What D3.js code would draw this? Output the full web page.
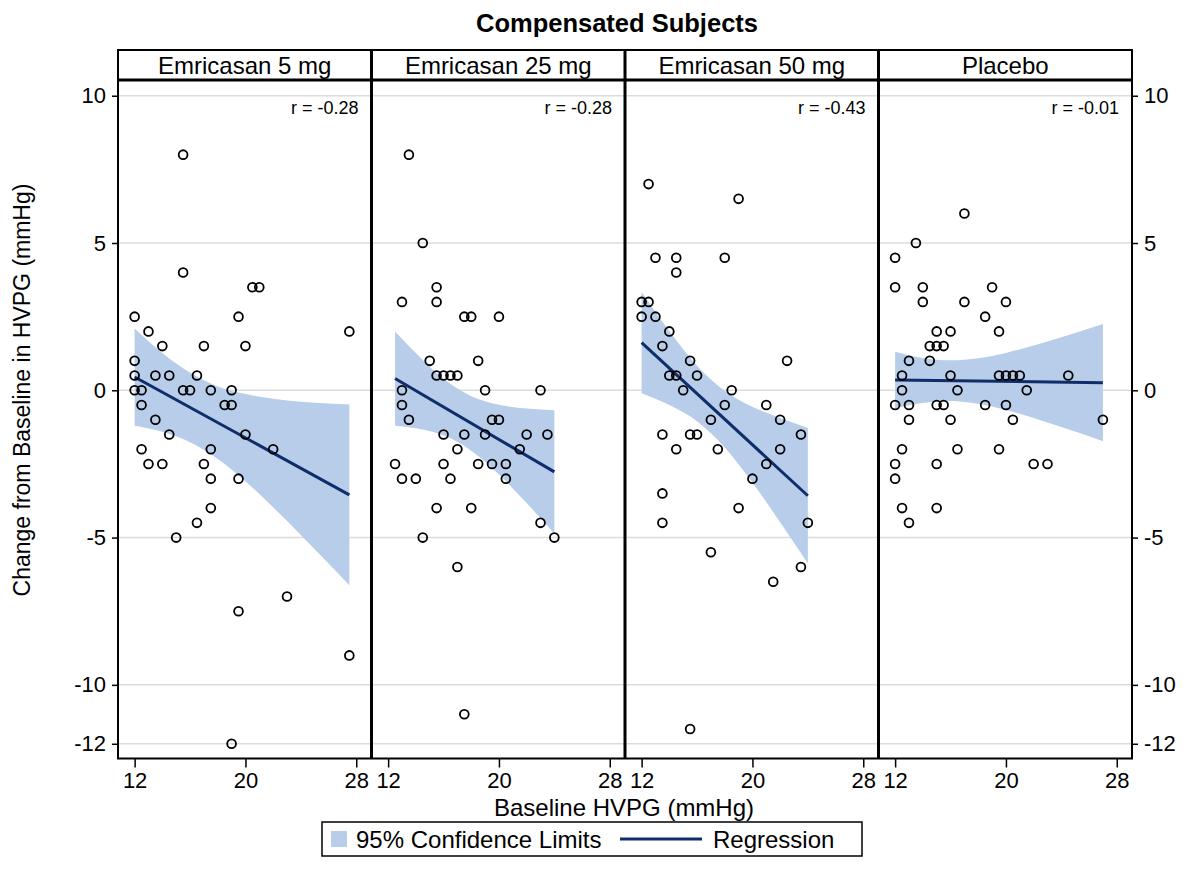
<!DOCTYPE html>
<html lang="en">
<head>
    <meta charset="UTF-8">
    <title>Compensated Subjects</title>
    <style>
        body { margin: 0; background: #fff; }
        #chart { font-family: "Liberation Sans", Arial, sans-serif; }
        .grid line { stroke: #dcdcdc; stroke-width: 1.5; }
        .band { fill: #b8cde9; stroke: none; }
        .fit { fill: none; stroke: #0f2d69; stroke-width: 3; }
        .pt { fill: none; stroke: #000; stroke-width: 1.8; }
        .axis text { font-size: 22px; fill: #000; }
        .axis line { stroke: #000; stroke-width: 1.5; }
    </style>
    <script src="https://d3js.org/d3.v7.min.js"></script>
</head>
<body>
<div id="chart"></div>
<script>
// panel titles and labels
const panelNames = ["Emricasan 5 mg", "Emricasan 25 mg", "Emricasan 50 mg", "Placebo"];
const rLabels = ["r = -0.28", "r = -0.28", "r = -0.43", "r = -0.01"];
const xTicks = [12, 20, 28];
const yTicks = [10, 5, 0, -5, -10, -12];

// points: baseline HVPG (x) and change (y)
const p1X = [15.5,15.5,20.5,21,12,19.5,13,27.5,14,17,20,12,12,13.5,14.5,16.5,12,12.5,15.5,16,17.5,19,12.5,18.5,19,13.5,14.5,20,12.5,17.5,22,13,14,17,17.5,19.5,17.5,16.5,15,23,19.5,27.5,19];
const p1Y = [8,4,3.5,3.5,2.5,2.5,2,2,1.5,1.5,1.5,1,0.5,0.5,0.5,0.5,0,0,0,0,0,0,-0.5,-0.5,-0.5,-1,-1.5,-1.5,-2,-2,-2,-2.5,-2.5,-2.5,-3,-3,-4,-4.5,-5,-7,-7.5,-9,-12];

const p2X = [13.5,14.5,15.5,13,15.5,17.5,18,20,15,18.5,15.5,16,16.5,17,13,19,23,13,13.5,19.5,20,16,17.5,19,22,23.5,17,21.5,12.5,16,18.5,19.5,20.5,13,14,16.5,20.5,15.5,18,23,14.5,24,17,17.5];
const p2Y = [8,5,3.5,3,3,2.5,2.5,2.5,1,1,0.5,0.5,0.5,0.5,0,0,0,-0.5,-1,-1,-1,-1.5,-1.5,-1.5,-1.5,-1.5,-2,-2,-2.5,-2.5,-2.5,-2.5,-2.5,-3,-3,-3,-3,-4,-4,-4.5,-5,-5,-6,-11];

const p3X = [12.5,19,13,14.5,18,14.5,12,12.5,12,13,14,13.5,15.5,22.5,14,14.5,16,15,18.5,18,21,17,22,13.5,15.5,16,23.5,14.5,17.5,22,21,20,13.5,19,13.5,24,17,23.5,21.5,15.5];
const p3Y = [7,6.5,4.5,4.5,4.5,4,3,3,2.5,2.5,2,1.5,1,1,0.5,0.5,0.5,0,0,-0.5,-0.5,-1,-1,-1.5,-1.5,-1.5,-1.5,-2,-2,-2,-2.5,-3,-3.5,-4,-4.5,-4.5,-5.5,-6,-6.5,-11.5];

const p4X = [17,13.5,12,12,14,19,14,17,20,18.5,15,16,19.5,14.5,15,15.5,13,14.5,12.5,16,19.5,20,20.5,21,24.5,12.5,16.5,21.5,12,13,15,15.5,18.5,20,13,16,20.5,27,12.5,16.5,19.5,12,15,22,23,12,12.5,15,13];
const p4Y = [6,5,4.5,3.5,3.5,3.5,3,3,3,2.5,2,2,2,1.5,1.5,1.5,1,1,0.5,0.5,0.5,0.5,0.5,0.5,0.5,0,0,0,-0.5,-0.5,-0.5,-0.5,-0.5,-0.5,-1,-1,-1,-1,-2,-2,-2,-2.5,-2.5,-2.5,-2.5,-3,-4,-4,-4.5];

// regression line end points
const fitX = [[12, 27.5], [12.5, 24], [12, 24], [12, 27]];
const fitY = [[0.45, -3.55], [0.40, -2.77], [1.62, -3.58], [0.35, 0.26]];

// 95% confidence band, read at a few x positions
const band1X = [12, 14, 16, 18, 20, 22, 24, 26, 27.5];
const band1Lo = [-1.20, -1.41, -1.76, -2.33, -3.09, -3.97, -4.91, -5.88, -6.62];
const band1Hi = [2.10, 1.27, 0.60, 0.13, -0.13, -0.29, -0.39, -0.45, -0.48];
const band2X = [12.5, 14, 16, 18, 20, 22, 24];
const band2Lo = [-1.20, -1.29, -1.53, -2.05, -2.86, -3.83, -4.86];
const band2Hi = [2.00, 1.27, 0.39, -0.20, -0.49, -0.62, -0.68];
const band3X = [12, 14, 16, 18, 20, 22, 24];
const band3Lo = [-0.10, -0.50, -1.05, -1.94, -3.13, -4.48, -5.88];
const band3Hi = [3.34, 2.01, 0.83, -0.02, -0.56, -0.94, -1.28];
const band4X = [12, 14, 16, 18, 20, 22, 24, 26, 27];
const band4Lo = [-0.61, -0.43, -0.36, -0.46, -0.67, -0.94, -1.25, -1.56, -1.73];
const band4Hi = [1.31, 1.10, 1.02, 1.09, 1.27, 1.52, 1.80, 2.10, 2.25];

const ptsX = [p1X, p2X, p3X, p4X];
const ptsY = [p1Y, p2Y, p3Y, p4Y];
const bandX = [band1X, band2X, band3X, band4X];
const bandLo = [band1Lo, band2Lo, band3Lo, band4Lo];
const bandHi = [band1Hi, band2Hi, band3Hi, band4Hi];

const W = 1195, H = 887;
const left = 118, right = 1132, headTop = 50, headBot = 80, bottom = 758.5;
const pw = (right - left) / panelNames.length;

const svg = d3.select("#chart").append("svg")
    .attr("width", W)
    .attr("height", H)
    .style("display", "block");

const y = d3.scaleLinear().domain([-12.5, 10.5]).range([bottom, headBot + 1]);
const plain = d => String(d); // keep ascii hyphen for negatives

// title
svg.append("text")
    .attr("x", 617).attr("y", 32)
    .attr("text-anchor", "middle")
    .style("font-size", "25.5px").style("font-weight", "bold")
    .text("Compensated Subjects");

// gridlines
svg.append("g").attr("class", "grid")
    .selectAll("line").data(yTicks).enter().append("line")
    .attr("x1", left).attr("x2", right)
    .attr("y1", d => y(d)).attr("y2", d => y(d));

panelNames.forEach((name, i) => {
    const x0 = left + i * pw;
    const x = d3.scaleLinear().domain([10.8, 29.1]).range([x0, x0 + pw]);
    const g = svg.append("g");

    const bd = bandX[i].map((v, k) => ({x: v, lo: bandLo[i][k], hi: bandHi[i][k]}));
    g.append("path").datum(bd)
        .attr("class", "band")
        .attr("d", d3.area()
            .x(d => x(d.x)).y0(d => y(d.lo)).y1(d => y(d.hi))
            .curve(d3.curveMonotoneX));

    g.append("path")
        .datum(fitX[i].map((v, k) => [v, fitY[i][k]]))
        .attr("class", "fit")
        .attr("d", d3.line().x(d => x(d[0])).y(d => y(d[1])));

    g.selectAll("circle").data(ptsX[i]).enter().append("circle")
        .attr("class", "pt")
        .attr("cx", d => x(d))
        .attr("cy", (d, k) => y(ptsY[i][k]))
        .attr("r", 4.4);

    g.append("text")
        .attr("x", x0 + pw - 13).attr("y", 114)
        .attr("text-anchor", "end")
        .style("font-size", "18px")
        .text(rLabels[i]);

    // header label
    svg.append("text")
        .attr("x", x0 + pw / 2).attr("y", 74)
        .attr("text-anchor", "middle")
        .style("font-size", "24px")
        .text(name);

    // bottom axis
    const ax = svg.append("g")
        .attr("class", "axis")
        .attr("transform", "translate(0," + bottom + ")")
        .call(d3.axisBottom(x).tickValues(xTicks).tickFormat(plain).tickSize(9).tickPadding(5));
    ax.select(".domain").remove();

    // panel separators
    if (i > 0) {
        svg.append("line")
            .attr("x1", x0).attr("x2", x0)
            .attr("y1", headTop).attr("y2", bottom)
            .attr("stroke", "#000").attr("stroke-width", 3);
    }
});

// frame
svg.append("rect")
    .attr("x", left).attr("y", headTop)
    .attr("width", right - left).attr("height", bottom - headTop)
    .attr("fill", "none").attr("stroke", "#000").attr("stroke-width", 2);
svg.append("line")
    .attr("x1", left).attr("x2", right)
    .attr("y1", headBot).attr("y2", headBot)
    .attr("stroke", "#000").attr("stroke-width", 3);

// y axes on both sides
const yl = svg.append("g").attr("class", "axis")
    .attr("transform", "translate(" + left + ",0)")
    .call(d3.axisLeft(y).tickValues(yTicks).tickFormat(plain).tickSize(6).tickPadding(6));
yl.select(".domain").remove();
const yr = svg.append("g").attr("class", "axis")
    .attr("transform", "translate(" + right + ",0)")
    .call(d3.axisRight(y).tickValues(yTicks).tickFormat(plain).tickSize(6).tickPadding(6));
yr.select(".domain").remove();

// axis titles
svg.append("text")
    .attr("x", 624).attr("y", 816)
    .attr("text-anchor", "middle")
    .style("font-size", "24px")
    .text("Baseline HVPG (mmHg)");
svg.append("text")
    .attr("transform", "translate(30,390) rotate(-90)")
    .attr("text-anchor", "middle")
    .style("font-size", "23px")
    .text("Change from Baseline in HVPG (mmHg)");

// legend
const lg = svg.append("g");
lg.append("rect")
    .attr("x", 322).attr("y", 822).attr("width", 540).attr("height", 34)
    .attr("fill", "#fff").attr("stroke", "#000").attr("stroke-width", 1.5);
lg.append("rect")
    .attr("x", 331).attr("y", 831).attr("width", 16).attr("height", 16)
    .attr("class", "band").attr("stroke", "#333").attr("stroke-width", 1.2);
lg.append("text")
    .attr("x", 356).attr("y", 848)
    .style("font-size", "24px")
    .text("95% Confidence Limits");
lg.append("line")
    .attr("x1", 620).attr("x2", 702).attr("y1", 839).attr("y2", 839)
    .attr("class", "fit");
lg.append("text")
    .attr("x", 713).attr("y", 848)
    .style("font-size", "24px")
    .text("Regression");
</script>
</body>
</html>
